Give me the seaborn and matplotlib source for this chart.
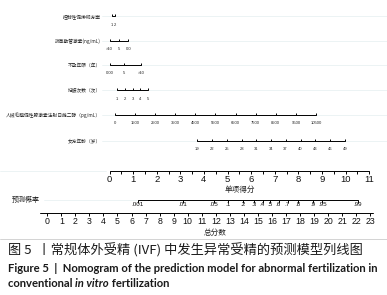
import seaborn as sns
import matplotlib.pyplot as plt

# ---- values ----
row_names = ["控制性促排卵方案", "抗苗勒管激素(ng/mL)", "不孕年限（年）", "妊娠次数（次）",
             "人绒毛膜促性腺激素注射日雌二醇（pg/mL）", "女方年龄（岁）"]

protocol_ticks = ["1", "2"]
protocol_pts = [0.10, 0.24]
amh_ticks = [">10", "5", "0.0"]
amh_pts = [0.0, 0.40, 0.80]
infert_ticks = ["0.00", "5", ">10"]
infert_pts = [0.0, 0.62, 1.34]
preg_ticks = ["1", "2", "3", "4", "5"]
preg_pts = [0.32, 0.66, 1.00, 1.29, 1.63]
e2_ticks = ["0", "1500", "2500", "3500", "4500", "5500", "6500", "7500", "8500", "9500", "10500"]
e2_pts = [0.23, 1.08, 1.93, 2.79, 3.64, 4.49, 5.34, 6.19, 7.04, 7.90, 8.75]
age_ticks = ["19", "22", "25", "28", "31", "34", "37", "40", "43", "46", "49"]
age_pts = [3.72, 4.33, 4.97, 5.60, 6.22, 6.84, 7.46, 8.10, 8.72, 9.35, 9.97]

points_major = [0, 1, 2, 3, 4, 5, 6, 7, 8, 9, 10, 11]
points_minor = [0.5, 1.5, 2.5, 3.5, 4.5, 5.5, 6.5, 7.5, 8.5, 9.5, 10.5]
total_ticks = list(range(0, 24))
prob_ticks = [".001", ".01", ".05", ".1", ".2", ".3", ".4", ".5", ".6", ".7", ".8", ".9", ".95", ".99"]
prob_total = [6.45, 9.67, 11.87, 12.87, 13.97, 14.72, 15.33, 15.86, 16.47, 17.11, 17.86, 18.89, 19.6, 22.13]

rows = [(protocol_ticks, protocol_pts), (amh_ticks, amh_pts), (infert_ticks, infert_pts),
        (preg_ticks, preg_pts), (e2_ticks, e2_pts), (age_ticks, age_pts)]

# ---- layout (pixels) ----
W, H = 387, 295
PT0, PT_PX = 109.5, 23.6      # where 0 points sits, px per point
TOT0, TOT_PX = 47.3, 14.04    # same for total points
row_y = [16, 41, 65, 90, 115, 141]

sns.set_theme(style="white")
plt.rcParams['font.family'] = ['Liberation Sans', 'Noto Sans CJK SC', 'DejaVu Sans']
cjk = ['Noto Sans CJK SC', 'DejaVu Sans']
latin = ['Lato', 'DejaVu Sans']

fig = plt.figure(figsize=(W / 100, H / 100), dpi=100)
canvas = fig.add_axes([0, 0, 1, 1])
canvas.set_xlim(0, W)
canvas.set_ylim(H, 0)
canvas.axis('off')

top = fig.add_axes([0, 0, 1, 1])
top.set_xlim(-PT0 / PT_PX, (W - PT0) / PT_PX)
top.set_ylim(H, 0)
top.axis('off')

bot = fig.add_axes([0, 0, 1, 1])
bot.set_xlim(-TOT0 / TOT_PX, (W - TOT0) / TOT_PX)
bot.set_ylim(H, 0)
bot.axis('off')

grid_c = '#e4eef0'
lw = 0.7

# variable rows
for name, (ticks, pts), y in zip(row_names, rows, row_y):
    canvas.plot([102, W], [y, y], color=grid_c, lw=0.5, zorder=0)
    canvas.text(101, y + 0.5, name, ha='right', va='center', fontsize=3.4,
                family=cjk, color='#222222')
    sns.lineplot(x=[pts[0], pts[-1]], y=[y, y], ax=top, color='black', lw=lw)
    top.vlines(pts, y, y - 2.5, color='black', lw=lw)
    for t, p in zip(ticks, pts):
        top.text(p, y + 8.5, t, ha='center', va='center', fontsize=3.0, color='#222222')

# points axis
yp = 171
canvas.plot([0, 106], [yp, yp], color=grid_c, lw=0.5, zorder=0)
sns.lineplot(x=[points_major[0], points_major[-1]], y=[yp, yp], ax=top, color='black', lw=lw)
top.vlines(points_major + points_minor, yp, yp + 3, color='black', lw=lw)
for p in points_major:
    top.text(p, yp + 9, str(p), ha='center', va='center', fontsize=6.8, color='#111111')
canvas.text(240, 190, "单项得分", ha='center', va='center', fontsize=5.5, family=cjk, color='#222222')

# predicted probability
ypr = 200
canvas.text(12, ypr, "预测概率", ha='left', va='center', fontsize=5, family=cjk, color='#222222')
canvas.plot([44, 137], [ypr, ypr], color=grid_c, lw=0.5, zorder=0)
sns.lineplot(x=[prob_total[0], prob_total[-1]], y=[ypr, ypr], ax=bot, color='black', lw=lw)
bot.vlines(prob_total, ypr, ypr + 3, color='black', lw=lw)
for t, p in zip(prob_ticks, prob_total):
    bot.text(p, ypr + 4.5, t, ha='center', va='center', fontsize=4.5, color='#111111')

# total points
yt = 212.5
sns.lineplot(x=[total_ticks[0] - 0.5, total_ticks[-1] + 0.2], y=[yt, yt], ax=bot, color='black', lw=lw)
bot.vlines(total_ticks, yt, yt + 3, color='black', lw=lw)
for p in total_ticks:
    bot.text(p, yt + 9.5, str(p), ha='center', va='center', fontsize=6.3, color='#111111')
canvas.text(215, 233, "总分数", ha='center', va='center', fontsize=5.5, family=cjk, color='#222222')

# separator and caption
canvas.plot([0, W], [238.5, 238.5], color='#cccccc', lw=0.6)
canvas.text(8, 250.5, "图 5  丨常规体外受精 (IVF) 中发生异常受精的预测模型列线图", ha='left', va='center',
            fontsize=9.5, family=cjk, color='#1a1a1a')
canvas.text(8, 268, "Figure 5  |  Nomogram of the prediction model for abnormal fertilization in",
            ha='left', va='center', fontsize=8.1, family=latin, weight='bold', color='#1a1a1a')

fig.canvas.draw()
r = fig.canvas.get_renderer()
x = 8
for piece, style in [("conventional ", 'normal'), ("in vitro", 'italic'), (" fertilization", 'normal')]:
    t = canvas.text(x, 283.5, piece, ha='left', va='center', fontsize=8.1,
                    family=latin, weight='bold', style=style, color='#1a1a1a')
    bb = t.get_window_extent(renderer=r)
    x += bb.width * W / fig.bbox.width

fig.savefig("out.png", dpi=100)
